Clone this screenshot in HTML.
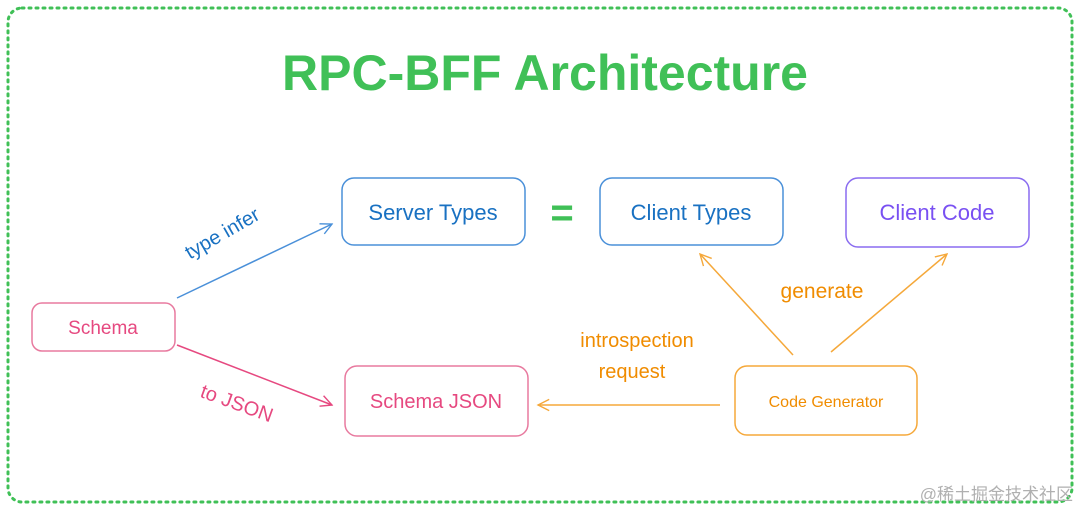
<!DOCTYPE html>
<html><head><meta charset="utf-8"><style>
html,body{margin:0;padding:0;background:#fff;}
svg{display:block}
text{font-family:"Liberation Sans","Noto Sans CJK SC",sans-serif;}
</style></head><body>
<svg width="1080" height="509" viewBox="0 0 1080 509" xmlns="http://www.w3.org/2000/svg">
<defs>
<marker id="ab" viewBox="0 0 20 20" refX="18" refY="10" markerWidth="14" markerHeight="14" markerUnits="userSpaceOnUse" orient="auto"><path d="M2 2 L18 10 L2 18" fill="none" stroke="#4a90d9" stroke-width="2"/></marker>
<marker id="ap" viewBox="0 0 20 20" refX="18" refY="10" markerWidth="14" markerHeight="14" markerUnits="userSpaceOnUse" orient="auto"><path d="M2 2 L18 10 L2 18" fill="none" stroke="#e64980" stroke-width="2"/></marker>
<marker id="ao" viewBox="0 0 20 20" refX="18" refY="10" markerWidth="14" markerHeight="14" markerUnits="userSpaceOnUse" orient="auto"><path d="M2 2 L18 10 L2 18" fill="none" stroke="#f5a83a" stroke-width="2"/></marker>
</defs>
<rect x="8" y="8" width="1064" height="494" rx="14" fill="none" stroke="#40c057" stroke-width="3" stroke-dasharray="2 5" stroke-linecap="round"/>
<text x="545" y="90" text-anchor="middle" font-size="50" font-weight="bold" fill="#40c057">RPC-BFF Architecture</text>

<rect x="342" y="178" width="183" height="67" rx="12" fill="none" stroke="#4a90d9" stroke-width="1.5"/>
<text x="433" y="220" text-anchor="middle" font-size="22" fill="#1971c2">Server Types</text>
<text x="562" y="226" text-anchor="middle" font-size="40" font-weight="bold" fill="#40c057">=</text>
<rect x="600" y="178" width="183" height="67" rx="12" fill="none" stroke="#4a90d9" stroke-width="1.5"/>
<text x="691" y="220" text-anchor="middle" font-size="22" fill="#1971c2">Client Types</text>
<rect x="846" y="178" width="183" height="69" rx="12" fill="none" stroke="#8a6cf0" stroke-width="1.5"/>
<text x="937" y="220" text-anchor="middle" font-size="22" fill="#7950f2">Client Code</text>
<rect x="32" y="303" width="143" height="48" rx="10" fill="none" stroke="#e87a9f" stroke-width="1.5"/>
<text x="103" y="334" text-anchor="middle" font-size="19" fill="#e64980">Schema</text>
<rect x="345" y="366" width="183" height="70" rx="12" fill="none" stroke="#e87a9f" stroke-width="1.5"/>
<text x="436" y="408" text-anchor="middle" font-size="20" fill="#e64980">Schema JSON</text>
<rect x="735" y="366" width="182" height="69" rx="12" fill="none" stroke="#f5a83a" stroke-width="1.5"/>
<text x="826" y="407" text-anchor="middle" font-size="16" fill="#f08c00">Code Generator</text>

<line x1="177" y1="298" x2="332" y2="224" stroke="#4a90d9" stroke-width="1.5" marker-end="url(#ab)"/>
<line x1="177" y1="345" x2="332" y2="405" stroke="#e64980" stroke-width="1.5" marker-end="url(#ap)"/>
<line x1="720" y1="405" x2="538" y2="405" stroke="#f5a83a" stroke-width="1.5" marker-end="url(#ao)"/>
<line x1="793" y1="355" x2="700" y2="254" stroke="#f5a83a" stroke-width="1.5" marker-end="url(#ao)"/>
<line x1="831" y1="352" x2="947" y2="254" stroke="#f5a83a" stroke-width="1.5" marker-end="url(#ao)"/>

<text x="222" y="240" text-anchor="middle" font-size="20" fill="#1971c2" transform="rotate(-30 222 233)">type infer</text>
<text x="237" y="410" text-anchor="middle" font-size="20" fill="#e64980" transform="rotate(20 237 403)">to JSON</text>
<text x="822" y="298" text-anchor="middle" font-size="21" fill="#f08c00">generate</text>
<text x="637" y="347" text-anchor="middle" font-size="20" fill="#f08c00">introspection</text>
<text x="632" y="378" text-anchor="middle" font-size="20" fill="#f08c00">request</text>
<text x="1073" y="500" text-anchor="end" font-size="17" fill="#b0b0b0">@稀土掘金技术社区</text>
</svg>
</body></html>
